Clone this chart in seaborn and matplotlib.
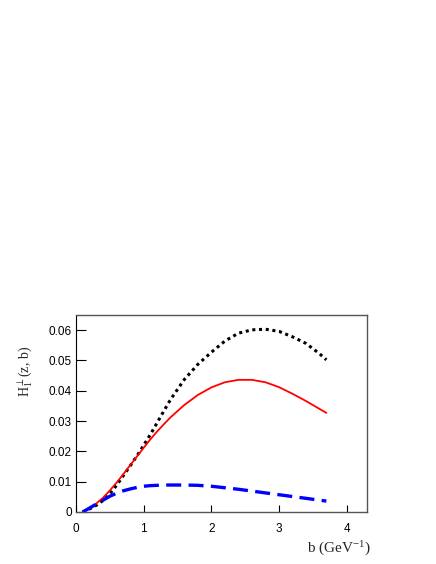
import pandas as pd
import seaborn as sns
import matplotlib.pyplot as plt

# 数据
b = [0.1, 0.2, 0.3, 0.4, 0.5, 0.6, 0.7, 0.8, 0.9, 1.0, 1.1, 1.2, 1.3, 1.4, 1.6, 1.8,
     2.0, 2.2, 2.4, 2.6, 2.8, 3.0, 3.2, 3.4, 3.6, 3.7]
h_black = [0.0, 0.0010, 0.0022, 0.0038, 0.0060, 0.0088, 0.0120, 0.0152, 0.0185,
           0.0220, 0.0256, 0.0295, 0.0334, 0.0372, 0.0437, 0.0487, 0.0527, 0.0564,
           0.0590, 0.0601, 0.0603, 0.0596, 0.0578, 0.0556, 0.0522, 0.0502]
h_red = [0.0, 0.0012, 0.0028, 0.0047, 0.0071, 0.0097, 0.0125, 0.0154, 0.0183,
         0.0212, 0.0240, 0.0266, 0.0290, 0.0313, 0.0353, 0.0386, 0.0411, 0.0428,
         0.0436, 0.0436, 0.0428, 0.0412, 0.0390, 0.0366, 0.0340, 0.0327]
h_blue = [0.0, 0.0013, 0.0026, 0.0039, 0.0052, 0.0062, 0.0070, 0.0076, 0.0081,
          0.0085, 0.0087, 0.0088, 0.0089, 0.0089, 0.0089, 0.0088, 0.0085, 0.0080,
          0.0075, 0.0069, 0.0063, 0.0057, 0.0051, 0.0045, 0.0039, 0.0036]

xticks = [0, 1, 2, 3, 4]
yticks = [0, 0.01, 0.02, 0.03, 0.04, 0.05, 0.06]
ytick_labels = ['0', '0.01', '0.02', '0.03', '0.04', '0.05', '0.06']

df = pd.DataFrame({'b': b, 'black': h_black, 'red': h_red, 'blue': h_blue})

sns.set_style('ticks')
plt.rcParams['font.family'] = ['Liberation Sans', 'DejaVu Sans']
plt.rcParams['mathtext.fontset'] = 'stix'

fig = plt.figure(figsize=(4.36, 5.64), dpi=100)
ax = fig.add_axes([0.1743, 0.0922, 0.6674, 0.3493])

sns.lineplot(data=df, x='b', y='black', ax=ax, color='black', lw=2.2,
             linestyle=(0, (1.0, 1.2)))
sns.lineplot(data=df, x='b', y='red', ax=ax, color='#ff0000', lw=1.3)
sns.lineplot(data=df, x='b', y='blue', ax=ax, color='#0000ff', lw=2.4,
             linestyle=(0, (4.5, 2.2)))

ax.set_xlim(0, 4.3)
ax.set_ylim(0, 0.065)
ax.set_xticks(xticks)
ax.set_xticklabels([str(t) for t in xticks])
ax.set_yticks(yticks)
ax.set_yticklabels(ytick_labels)
ax.tick_params(axis='both', direction='in', labelsize=8.5, colors='black',
               left=True, bottom=True, top=False, right=False)
ax.tick_params(axis='y', length=7, width=0.8, pad=3)
ax.tick_params(axis='x', length=5, width=0.8, pad=8)

for side in ['top', 'right', 'bottom']:
    ax.spines[side].set_visible(True)
    ax.spines[side].set_color('#555555')
    ax.spines[side].set_linewidth(1.0)
ax.spines['left'].set_color('black')
ax.spines['left'].set_linewidth(0.8)

ax.set_xlabel('')
ax.set_ylabel('')
fig.text(0.851, 0.029, r'b (GeV$^{\mathregular{-1}}$)', ha='right', va='center',
         fontsize=11, family='Liberation Serif')
fig.text(0.057, 0.342, r'H$_{\mathregular{1}}^{\perp}$(z, b)', ha='center', va='center',
         rotation=90, fontsize=10, family='Liberation Serif')

plt.savefig('out.png', dpi=100)
